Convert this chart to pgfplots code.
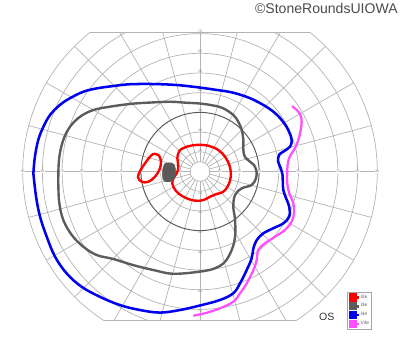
\documentclass[border=0pt]{standalone}
\usepackage{pgfplots}
\pgfplotsset{compat=1.18}
\usepackage{fontspec}
\setmainfont{Liberation Sans}
\definecolor{gridc}{HTML}{B4B4B4}
\definecolor{darkc}{HTML}{5A5A5A}
\definecolor{isoGray}{HTML}{5C5C5C}
\definecolor{isoBlue}{HTML}{0000F0}
\definecolor{isoMag}{HTML}{FF4DFF}
\definecolor{isoRed}{HTML}{FF0000}
\begin{document}
\begin{tikzpicture}
\begin{axis}[
  width=10cm, height=8.8cm, scale only axis,
  xmin=-101.52, xmax=101.52, ymin=-91.62, ymax=87.06,
  hide axis, clip=false,
  legend image code/.code={\fill[#1] (0pt,-2.1pt) rectangle (4.2pt,2.1pt); \path (0pt,0pt) -- (6.2pt,0pt);},
  legend style={at={(axis cs:74.5,-61)}, anchor=north west, draw=gray!70, line width=0.5pt,
    font=\fontsize{3.4}{4}\selectfont, inner xsep=1pt, inner ysep=1pt, row sep=0.3pt,
    nodes={inner sep=0.6pt, text=gray!70!black}},
  legend cell align=left,
]
% ---- grid ----
\begin{scope}
  \clip (axis cs:0,0) circle [radius=90];
  \draw[gridc, line width=0.5pt] (axis cs:-90,70.8) -- (axis cs:90,70.8);
  \draw[gridc, line width=0.5pt] (axis cs:-90,-75.4) -- (axis cs:90,-75.4);
\end{scope}
\begin{scope}
  \clip (axis cs:-92,-75.4) rectangle (axis cs:92,70.8);
  \pgfplotsinvokeforeach{5,10,20,40,50,60,70,80,90}{
    \draw[gridc, line width=0.5pt] (axis cs:0,0) circle [radius=#1];
  }
  \pgfplotsinvokeforeach{0,15,30,45,60,75,90,105,120,135,150,165,180,195,210,225,240,255,270,285,300,315,330,345}{
    \draw[gridc, line width=0.5pt] (axis cs:{5*cos(#1)},{5*sin(#1)}) -- (axis cs:{90*cos(#1)},{90*sin(#1)});
  }
  \draw[darkc, line width=0.7pt] (axis cs:0,0) circle [radius=30];
\end{scope}
\pgfplotsinvokeforeach{10,20,30,40,50,60,70,80,90}{
  \node[font=\fontsize{2.4}{3}\selectfont, text=gray, fill=white, inner sep=0.2pt] at (axis cs:#1,0) {#1};
  \node[font=\fontsize{2.4}{3}\selectfont, text=gray, fill=white, inner sep=0.2pt] at (axis cs:-#1,0) {#1};
}
\pgfplotsinvokeforeach{10,20,30,40,50,60,70}{
  \node[font=\fontsize{2.4}{3}\selectfont, text=gray, anchor=south, inner sep=0.3pt] at (axis cs:0,#1) {#1};
  \node[font=\fontsize{2.4}{3}\selectfont, text=gray, anchor=north, inner sep=0.3pt] at (axis cs:0,-#1) {#1};
}
% ---- isopters ----
% I2e central
\addplot[isoRed, line width=1.7pt, smooth, tension=0.6] coordinates {
(-10.2,10.9) (-6.8,12.6) (-1.7,13.5) (4.2,13.1) (9.3,10.9) (12.7,7.5) (15.2,2.4)
(15.6,-2.6) (14.4,-6.9) (11.8,-10.3) (8.5,-11.4) (5.1,-12.8) (1.7,-14.5) (-2.5,-14.8)
(-6.8,-13.6) (-11.0,-11.1) (-13.6,-7.7) (-13.9,-4.3) (-11.8,-0.9) (-11.0,2.4)
(-11.5,6.7) (-11.0,9.2) (-10.2,10.9)
};
\addlegendentry{I2e}
% I3e
\addplot[isoGray, line width=1.7pt, smooth, tension=0.6] coordinates {
(-71.9,-0.8) (-71.4,7.5) (-69.4,16.0) (-66.0,22.7) (-60.9,27.8) (-54.2,31.2)
(-45.7,32.9) (-35.5,34.3) (-27.1,34.9) (-15.2,35.4) (-6.8,34.9) (0,34.5) (6.8,33.5)
(11.8,32.1) (16.9,28.7) (19.4,25.3) (21.2,21.1) (22.0,16.0) (22.0,10.9) (22.8,7.4)
(25.4,5.0) (27.4,3.3) (28.7,0) (28.4,-3.5) (26.2,-6.9) (21.2,-8.5) (17.8,-11.9)
(16.9,-17.9) (17.8,-24.6) (17.8,-33.1) (16.1,-39.8) (12.7,-45.8) (7.6,-49.1)
(0,-50.8) (-13.6,-51.9) (-23.7,-50.0) (-33.9,-47.5) (-44.0,-44.4) (-52.4,-42.4)
(-59.2,-38.2) (-65.1,-32.2) (-69.4,-24.6) (-71.4,-16.1) (-71.9,-7.7) (-71.9,-0.8)
};
\addlegendentry{I3e}
% I4e
\addplot[isoBlue, line width=1.8pt, smooth, tension=0.6] coordinates {
(-84.6,-0.9) (-83.8,7.5) (-82.1,16.0) (-79.5,22.7) (-76.1,28.7) (-71.1,33.8)
(-66.0,37.2) (-59.2,40.5) (-52.4,42.2) (-44.0,43.4) (-35.5,44.3) (-23.7,44.4)
(-11.8,43.9) (0,42.6) (8.5,41.4) (16.9,40.0) (25.4,37.2) (32.1,33.8) (37.2,30.4)
(41.5,26.1) (44.8,21.1) (46.5,16.0) (45.7,12.6) (42.3,10.1) (40.1,8.4) (39.7,5.0)
(41.0,1.6) (41.9,-1.8) (42.0,-4.3) (42.3,-9.4) (43.7,-13.6) (45.3,-17.9)
(45.3,-22.9) (42.3,-26.3) (37.2,-28.8) (32.1,-31.4) (28.8,-34.8) (27.1,-39.0)
(26.2,-44.1) (23.7,-50.0) (20.3,-56.8) (16.9,-61.8) (10.2,-65.2) (0,-68.0)
(-10.2,-70.3) (-20.3,-71.6) (-30.5,-70.3) (-40.6,-67.8) (-50.8,-63.6)
(-60.1,-58.5) (-67.7,-51.7) (-73.6,-43.2) (-77.8,-33.1) (-81.2,-22.9)
(-83.2,-12.8) (-84.6,-0.9)
};
\addlegendentry{I4e}
% V4e
\addplot[isoMag, line width=1.6pt, smooth, tension=0.6] coordinates {
(46.7,33.2) (49.1,31.2) (51.0,28.7) (51.6,25.3) (51.1,21.1) (49.9,16.0) (48.2,11.8)
(46.0,8.4) (44.7,5.0) (44.3,0.8) (44.3,-6.0) (45.3,-11.1) (47.4,-16.1) (47.7,-21.2)
(46.5,-25.5) (43.1,-29.7) (38.1,-33.1) (33.0,-36.4) (29.6,-39.8) (28.8,-44.9)
(27.1,-50.0) (23.7,-56.8) (20.3,-61.8) (16.9,-66.1) (10.2,-69.4) (3.4,-71.7)
(-3.4,-73.2)
};
\addlegendentry{V4e}
% I2e island
\addplot[isoRed, line width=1.7pt, smooth, tension=0.6, forget plot] coordinates {
(-23.7,9.0) (-21.2,8.4) (-19.9,5.8) (-20.3,1.6) (-22.8,-2.6) (-26.2,-5.2)
(-29.6,-5.2) (-31.5,-2.8) (-30.1,0.8) (-27.9,4.2) (-25.4,7.5) (-23.7,9.0)
};
% blind spot
\addplot[fill=darkc, draw=darkc, line width=0.3pt, smooth, tension=0.7, forget plot] coordinates {
(-17.8,4.1) (-14.2,4.3) (-12.7,2.3) (-12.4,-0.8) (-13.7,-4.3) (-16.8,-5.3)
(-18.8,-3.8) (-19.0,0.8) (-17.8,4.1)
} -- cycle;
% texts
\node[anchor=center, font=\fontsize{7.5}{9}\selectfont, text=black!80] at (axis cs:64.3,-73.9) {OS};
\node[anchor=east, font=\fontsize{10}{12}\selectfont, text=black!70, inner sep=0pt] at (axis cs:100.5,82.7) {©StoneRoundsUIOWA};
\end{axis}
\pgfresetboundingbox
\path (current axis.south west) rectangle (current axis.north east);
\end{tikzpicture}
\end{document}
